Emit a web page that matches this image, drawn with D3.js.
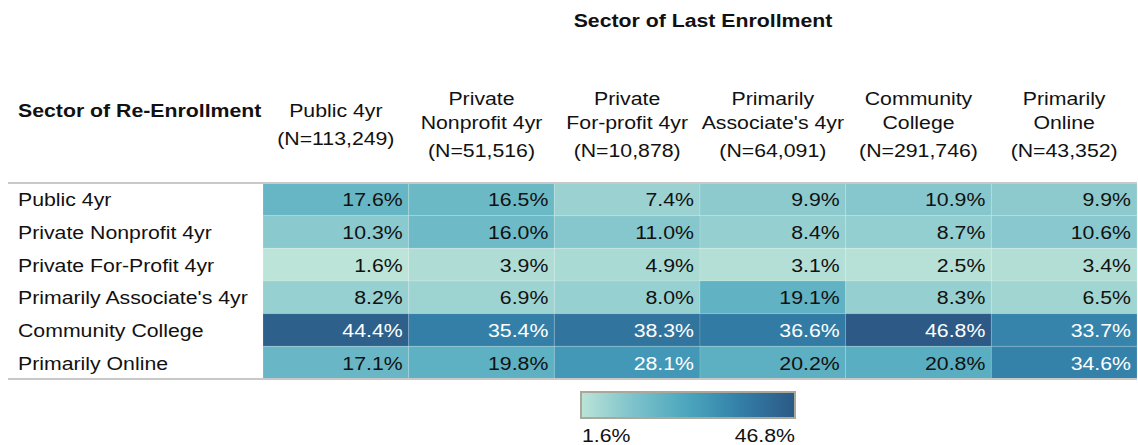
<!DOCTYPE html>
<html><head><meta charset="utf-8">
<script src="https://cdn.jsdelivr.net/npm/d3@7"></script>
<style>body{margin:0;background:#fff}svg{display:block}</style>
</head><body>
<svg id="chart" width="1138" height="445"></svg>
<script>
const lastSectors = ["Public 4yr","Private Nonprofit 4yr","Private For-profit 4yr","Primarily Associate's 4yr","Community College","Primarily Online"];
const headerLines = [
  ["Public 4yr","(N=113,249)"],
  ["Private","Nonprofit 4yr","(N=51,516)"],
  ["Private","For-profit 4yr","(N=10,878)"],
  ["Primarily","Associate's 4yr","(N=64,091)"],
  ["Community","College","(N=291,746)"],
  ["Primarily","Online","(N=43,352)"]
];
const reSectors = ["Public 4yr","Private Nonprofit 4yr","Private For-Profit 4yr","Primarily Associate's 4yr","Community College","Primarily Online"];
const valPublic4yr     = [17.6,16.5,7.4,9.9,10.9,9.9];
const valPrivNonprofit = [10.3,16.0,11.0,8.4,8.7,10.6];
const valPrivForProfit = [1.6,3.9,4.9,3.1,2.5,3.4];
const valAssociates    = [8.2,6.9,8.0,19.1,8.3,6.5];
const valCommunity     = [44.4,35.4,38.3,36.6,46.8,33.7];
const valOnline        = [17.1,19.8,28.1,20.2,20.8,34.6];
const rowValues = [valPublic4yr,valPrivNonprofit,valPrivForProfit,valAssociates,valCommunity,valOnline];

const FONT = "'Liberation Sans', Arial, sans-serif";
const FS = 18.5, SX = 1.15;

const svg = d3.select("#chart");
const cells = [];
reSectors.forEach((r,i)=>lastSectors.forEach((c,j)=>cells.push({row:r,col:c,v:rowValues[i][j]})));
const vmin = d3.min(cells,d=>d.v), vmax = d3.max(cells,d=>d.v);

const x = d3.scaleBand().domain(lastSectors).range([263,1137]);
const y = d3.scaleBand().domain(reSectors).range([183,379]);
const color = d3.scaleLinear()
  .domain([vmin, 12, 24, 35, vmax])
  .range(["#bce4d8","#80c4cc","#4ba6bd","#3380a9","#2c5985"])
  .interpolate(d3.interpolateRgb);

function stext(sel, tx, ty, anchor, txt, opts={}) {
  return sel.append("text")
    .attr("transform", `translate(${tx},${ty}) scale(${SX},1)`)
    .attr("text-anchor", anchor)
    .attr("font-family", FONT)
    .attr("font-size", opts.size || FS)
    .attr("font-weight", opts.bold ? "bold" : "normal")
    .attr("fill", opts.fill || "#111")
    .text(txt);
}

// title
stext(svg, 703, 27, "middle", "Sector of Last Enrollment", {bold:true});
stext(svg, 18, 117, "start", "Sector of Re-Enrollment", {bold:true});

// column headers
lastSectors.forEach((c,j)=>{
  const lines = headerLines[j];
  const cx = x(c) + x.bandwidth()/2;
  let by = lines.length === 3 ? 105 : 117;
  lines.forEach((ln,k)=>{
    if (k === lines.length-1 && k>0) by += 4;
    stext(svg, cx, by, "middle", ln);
    by += 24;
  });
});

// cells
const g = svg.append("g");
g.selectAll("rect.cell").data(cells).join("rect")
  .attr("class","cell")
  .attr("x", d=>x(d.col)).attr("y", d=>y(d.row))
  .attr("width", x.bandwidth()).attr("height", y.bandwidth())
  .attr("fill", d=>color(d.v))
  .attr("stroke","#ffffff").attr("stroke-opacity",0.15).attr("stroke-width",1);

cells.forEach(d=>{
  stext(g, x(d.col)+x.bandwidth()-6, y(d.row)+y.bandwidth()/2+7, "end", d.v.toFixed(1)+"%",
    {fill: d.v > 25 ? "#ffffff" : "#111"});
});

// row labels
reSectors.forEach(r=>{
  stext(svg, 18, y(r)+y.bandwidth()/2+7, "start", r);
});

// borders
[183,379].forEach(yy=>{
  svg.append("line").attr("x1",8).attr("x2",1137).attr("y1",yy).attr("y2",yy)
    .attr("stroke","#c8c8c8").attr("stroke-width",2);
});

// legend
const defs = svg.append("defs");
const grad = defs.append("linearGradient").attr("id","lg");
d3.range(0,1.0001,0.05).forEach(t=>{
  grad.append("stop").attr("offset",(t*100)+"%").attr("stop-color",color(vmin+t*(vmax-vmin)));
});
const lx = d3.scaleLinear().domain([vmin,vmax]).range([581,795]);
svg.append("rect").attr("x",lx(vmin)).attr("y",392).attr("width",lx(vmax)-lx(vmin)).attr("height",26)
  .attr("fill","url(#lg)").attr("stroke","#a9a89a").attr("stroke-width",2);
stext(svg, lx(vmin)+1, 442, "start", vmin.toFixed(1)+"%");
stext(svg, lx(vmax), 442, "end", vmax.toFixed(1)+"%");
</script>
</body></html>
